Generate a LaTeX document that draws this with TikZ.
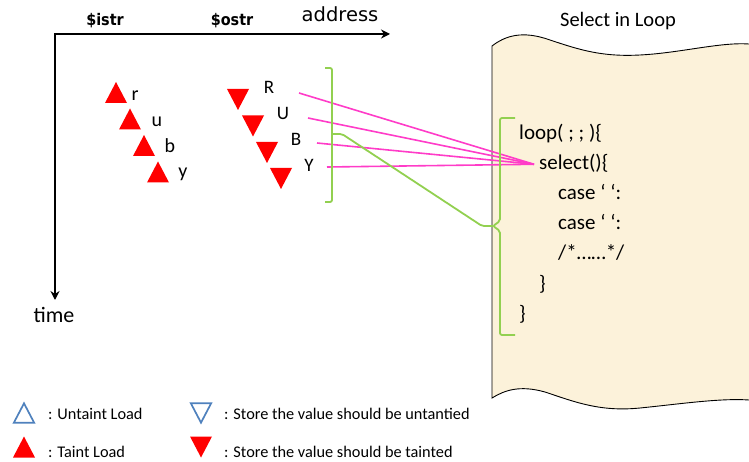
\documentclass[tikz,border=0pt]{standalone}
\usepackage{fontspec}
\setmainfont{Carlito}
\newfontfamily\dejavu{DejaVu Sans}
\newfontfamily\dejavucond{DejaVu Sans Condensed}
\usetikzlibrary{arrows.meta}
\definecolor{hotpink}{RGB}{255,60,200}
\definecolor{bracegreen}{RGB}{146,208,80}
\definecolor{legendblue}{RGB}{79,129,189}
\definecolor{parchment}{RGB}{252,242,218}
\tikzset{
  txt/.style={inner sep=0pt, anchor=base},
  codeline/.style={inner sep=0pt, anchor=base west, font=\fontsize{21}{25}\selectfont},
  axisline/.style={line width=1.8pt, -{Stealth[length=9pt,width=9pt]}},
  brace/.style={draw=bracegreen, line width=1.8pt, rounded corners=2pt},
  ray/.style={draw=hotpink, line width=1.6pt},
  varname/.style={txt, font=\dejavucond\bfseries\fontsize{16}{19}\selectfont},
  small/.style={txt, font=\fontsize{20}{24}\selectfont},
  caps/.style={txt, font=\fontsize{19}{23}\selectfont},
  legend/.style={txt, anchor=base west, font=\fontsize{16.3}{19}\selectfont},
  tload/.pic={\path[pic actions] (-11,10.5) -- (11,10.5) -- (0,-10.5) -- cycle;},
  tstore/.pic={\path[pic actions] (-11,-10.5) -- (11,-10.5) -- (0,10.5) -- cycle;},
}
\begin{document}
\begin{tikzpicture}[x=1pt,y=-1pt]
\useasboundingbox (0,0) rectangle (749,462);

% parchment sheet holding the code
\fill[parchment] (492,46) .. controls (505,36) and (522,30) .. (550,40)
  .. controls (580,50) and (602,57) .. (640,55)
  .. controls (680,53) and (720,42) .. (749,44)
  -- (749,400)
  .. controls (720,398) and (680,404) .. (640,408)
  .. controls (600,412) and (575,402) .. (545,392)
  .. controls (520,385) and (505,390) .. (492,398) -- cycle;
\draw[line width=0.9pt] (749,44) .. controls (720,42) and (680,53) .. (640,55)
  .. controls (602,57) and (580,50) .. (550,40)
  .. controls (522,30) and (505,36) .. (492,46)
  -- (492,398)
  .. controls (505,390) and (520,385) .. (545,392)
  .. controls (575,402) and (600,412) .. (640,408)
  .. controls (680,404) and (720,398) .. (749,400);

\node[txt, font=\fontsize{20.5}{24}\selectfont] (title) at (618,27) {Select in Loop};

% axes
\coordinate (origin) at (55,34);
\coordinate (xend) at (390,34);
\coordinate (yend) at (55,300);
\draw[axisline] ([xshift=-0.9pt]origin) -- (xend);
\draw[axisline] (origin) -- (yend);
\node[varname] (istr) at (105,26) {\$istr};
\node[varname] (ostr) at (232,26) {\$ostr};
\node[txt, font=\dejavu\fontsize{19.5}{23}\selectfont] (address) at (340,22) {address};
\node[txt, font=\fontsize{22}{26}\selectfont] (time) at (54,322) {time};

% loads into $istr
\pic[fill=red] at (116,92.5) {tload};
\pic[fill=red] at (130,119) {tload};
\pic[fill=red] at (144,145.5) {tload};
\pic[fill=red] at (158,172) {tload};
\node[small] (lr) at (135,100.5) {r};
\node[small] (lu) at (157,127) {u};
\node[small] (lb) at (170,153) {b};
\node[small] (ly) at (183,178) {y};

% stores into $ostr
\pic[fill=red] at (238,99.5) {tstore};
\pic[fill=red] at (253,126) {tstore};
\pic[fill=red] at (267,152.5) {tstore};
\pic[fill=red] at (281,178.5) {tstore};
\node[caps] (sR) at (269,94) {R};
\node[caps] (sU) at (283,120) {U};
\node[caps] (sB) at (296,146) {B};
\node[caps] (sY) at (309,172) {Y};

% code in the loop
\node[codeline] (cloop) at (519,140) {loop( ; ; )\{};
\node[codeline] (csel) at (539,170) {select()\{};
\node[codeline] (ccase1) at (558,200) {case ‘ ‘:};
\node[codeline] (ccase2) at (558,230) {case ‘ ‘:};
\node[codeline] (cdots) at (558,260) {/*……*/};
\node[codeline] (cclose1) at (539,290) {\}};
\node[codeline] (cclose2) at (519,320) {\}};

% rays from each stored byte to select()
\coordinate (rR) at (299,93);
\coordinate (rU) at (308,118);
\coordinate (rB) at (317,143);
\coordinate (rY) at (327,167);
\coordinate (rsel) at ([xshift=-5pt,yshift=-0.5pt]csel.west);
\foreach \s in {rR,rU,rB,rY} \draw[ray] (\s) -- (rsel);

% bracket around the stores and bracket around the loop
\coordinate (lmid) at (332,134);
\coordinate (rmid) at (493,226);
\draw[brace] (325,68) -- (332,68) -- (332,202) -- (325,202);
\draw[brace] (515,118) -- (500,118) -- (500,221) -- (rmid) -- (500,231) -- (500,335) -- (515,335);
\draw[brace] (lmid) -- (342,134) -- (482,226) -- (rmid);

% legend
\pic[draw=legendblue, line width=1.7pt, scale=0.92] at (24,413) {tload};
\node[legend] (kuload) at (48,419) {: Untaint Load};
\pic[draw=legendblue, line width=1.7pt, scale=0.92] at (201,413) {tstore};
\node[legend] (kustore) at (224,419) {: Store the value should be untantied};
\pic[fill=red] at (24,447) {tload};
\node[legend] (ktload) at (48,457) {: Taint Load};
\pic[fill=red] at (201,447) {tstore};
\node[legend] (ktstore) at (224,457) {: Store the value should be tainted};
\end{tikzpicture}
\end{document}
